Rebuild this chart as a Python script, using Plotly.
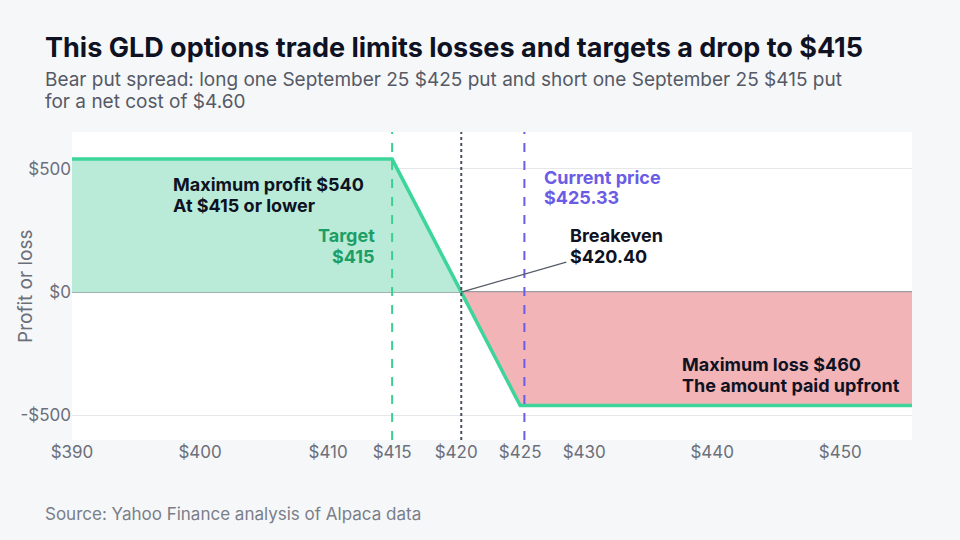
import plotly.graph_objects as go

# payoff of the bear put spread at expiry (per contract)
prices = [390, 415, 420.4, 425, 455.6]
pnl = [540, 540, 0, -460, -460]

target_price = 415
breakeven_price = 420.4
current_price = 425.33

x_ticks = [390, 400, 410, 415, 420, 425, 430, 440, 450]
x_tick_labels = ["$390", "$400", "$410", "$415", "$420", "$425", "$430", "$440", "$450"]
y_ticks = [-500, 0, 500]
y_tick_labels = ["-$500", "$0", "$500"]

GREEN_LINE = "#3dd59a"
GREEN_FILL = "#b9ebd8"
RED_FILL = "#f2b4b6"
PURPLE = "#6b5ce6"
DARK = "#0e1222"
GREY = "#6b6f7a"
FONT = "Inter, sans-serif"

fig = go.Figure()

# profit area (left of breakeven) and loss area (right of breakeven)
profit_x = [p for p in prices if p <= breakeven_price]
profit_y = [v for p, v in zip(prices, pnl) if p <= breakeven_price]
loss_x = [p for p in prices if p >= breakeven_price]
loss_y = [v for p, v in zip(prices, pnl) if p >= breakeven_price]

fig.add_trace(go.Scatter(x=profit_x, y=profit_y, mode="lines", fill="tozeroy",
                         fillcolor=GREEN_FILL, line=dict(width=0), hoverinfo="skip"))
fig.add_trace(go.Scatter(x=loss_x, y=loss_y, mode="lines", fill="tozeroy",
                         fillcolor=RED_FILL, line=dict(width=0), hoverinfo="skip"))

# vertical reference lines
fig.add_vline(x=target_price, line=dict(color="#3ccf92", width=2, dash="dash"), layer="above")
fig.add_vline(x=breakeven_price, line=dict(color="#4a4f5a", width=2, dash="dot"), layer="above")
fig.add_vline(x=current_price, line=dict(color=PURPLE, width=2, dash="dash"), layer="above")

fig.add_trace(go.Scatter(x=prices, y=pnl, mode="lines",
                         line=dict(color=GREEN_LINE, width=3.5)))

# leader line for the breakeven label
fig.add_shape(type="line", x0=breakeven_price, y0=0, x1=428.6, y1=122,
              line=dict(color="#555a66", width=1.2))


def two_lines(x, y, lines, color=DARK, anchor="left", size=18, gap=82):
    # y is the centre of the first line, gap is the line step in data units
    for i, t in enumerate(lines):
        fig.add_annotation(x=x, y=y - i * gap, text="<b>" + t + "</b>", showarrow=False,
                           xanchor=anchor, yanchor="middle",
                           font=dict(family=FONT, size=size, color=color))


two_lines(397.7, 435, ["Maximum profit $540", "At $415 or lower"])
two_lines(413.8, 228, ["Target", "$415"], color="#1d9e66", anchor="right")
two_lines(426.7, 465, ["Current price", "$425.33"], color=PURPLE)
two_lines(428.7, 228, ["Breakeven", "$420.40"])
two_lines(437.5, -295, ["Maximum loss $460", "The amount paid upfront"])

# title, subtitle, source, y-axis title
fig.add_annotation(xref="paper", yref="paper", x=-0.0345, y=1.273, xanchor="left", yanchor="middle",
                   text="<b>This GLD options trade limits losses and targets a drop to $415</b>",
                   showarrow=False, font=dict(family=FONT, size=27, color=DARK))
subtitle = ["Bear put spread: long one September 25 $425 put and short one September 25 $415 put",
            "for a net cost of $4.60"]
for i, t in enumerate(subtitle):
    fig.add_annotation(xref="paper", yref="paper", x=-0.0345, y=1.172 - i * 0.0714,
                       xanchor="left", yanchor="middle", text=t, showarrow=False,
                       font=dict(family=FONT, size=19, color="#555a66"))
fig.add_annotation(xref="paper", yref="paper", x=-0.0345, y=-0.24, xanchor="left", yanchor="middle",
                   text="Source: Yahoo Finance analysis of Alpaca data",
                   showarrow=False, font=dict(family=FONT, size=17, color="#7a7e88"))
fig.add_annotation(xref="paper", yref="paper", x=-0.056, y=0.5, xanchor="center", yanchor="middle",
                   text="Profit or loss", textangle=-90, showarrow=False,
                   font=dict(family=FONT, size=19, color=GREY))

fig.update_layout(
    width=960, height=540,
    margin=dict(l=72, r=48, t=132, b=100, autoexpand=False),
    paper_bgcolor="#f6f7f9",
    plot_bgcolor="white",
    showlegend=False,
    font=dict(family=FONT, color=GREY),
    xaxis=dict(range=[390, 455.6], tickvals=x_ticks, ticktext=x_tick_labels, automargin=False,
               showgrid=False, zeroline=False, ticks="", tickfont=dict(size=17, color=GREY)),
    yaxis=dict(range=[-600, 650], tickvals=y_ticks, ticktext=y_tick_labels, automargin=False,
               showgrid=True, gridcolor="#e6e7ea", zeroline=True, zerolinecolor="#9a9ca3",
               zerolinewidth=1.5, ticks="", tickfont=dict(size=17, color=GREY)),
)

fig.write_html("out.html", config={"displayModeBar": False},
               post_script="document.body.style.margin='0';")
